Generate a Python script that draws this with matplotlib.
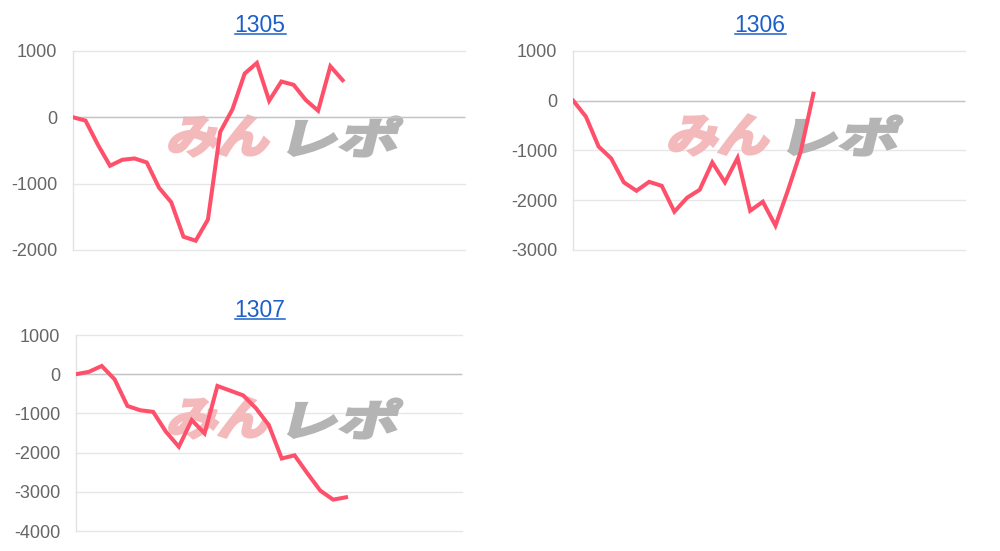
import matplotlib
matplotlib.use('Agg')
import matplotlib.pyplot as plt
from matplotlib.textpath import TextPath
from matplotlib.patches import PathPatch
from matplotlib.font_manager import FontProperties
from matplotlib.transforms import Affine2D, IdentityTransform
from matplotlib.lines import Line2D
import numpy as np

plt.rcParams['font.family'] = ['Liberation Sans', 'DejaVu Sans']
plt.rcParams['axes.unicode_minus'] = False

# dados
titles = ['1305', '1306', '1307']
v1305 = [0, -50, -410, -730, -640, -620, -680, -1060, -1280, -1800, -1860, -1540,
         -220, 120, 660, 820, 250, 540, 490, 260, 100, 770, 560]
v1306 = [0, -320, -920, -1160, -1640, -1810, -1630, -1710, -2230, -1950, -1790,
         -1240, -1640, -1150, -2210, -2030, -2510, -1790, -1020, 140]
v1307 = [0, 60, 210, -130, -810, -920, -960, -1470, -1850, -1170, -1510, -300,
         -420, -540, -870, -1300, -2150, -2070, -2530, -2970, -3200, -3140]
series = [v1305, v1306, v1307]
y_ranges = [(-2000, 1000), (-3000, 1000), (-4000, 1000)]
n_slots = [32, 31, 30]

W, H = 1000, 551
# caixas dos eixos em pixels (esq, topo, dir, base)
boxes = [(73.3, 51, 465, 250), (573.3, 51, 965, 250), (76, 335, 461.7, 531)]
title_pos = [(260, 31.7), (760, 31.7), (260, 316.7)]
mark_pos = [(163, 116), (663, 115), (163, 398)]

LINE = '#fe506a'
fp = FontProperties(family='Noto Sans CJK JP', weight='bold')


def fit_text(ax, txt, x0, top, w, h, color, skew=14, thick=2.2):
    tp = TextPath((0, 0), txt, size=10, prop=fp)
    bb = tp.get_extents()
    sh = np.tan(np.radians(skew)) * h
    tr = (Affine2D().translate(-bb.x0, -bb.y0)
          .scale((w - sh) / bb.width, h / bb.height)
          .skew_deg(skew, 0)
          .translate(x0, H - top - h))
    patch = PathPatch(tr.transform_path(tp), facecolor=color, edgecolor=color,
                      lw=thick, joinstyle='miter',
                      transform=IdentityTransform(), zorder=1.2, clip_on=False)
    ax.add_artist(patch)


fig = plt.figure(figsize=(W / 100, H / 100), dpi=100)

title_texts = []
for i in range(3):
    l, t, r, b = boxes[i]
    ax = fig.add_axes([l / W, 1 - b / H, (r - l) / W, (b - t) / H])
    ymin, ymax = y_ranges[i]
    vals = series[i]
    ax.plot(range(len(vals)), vals, color=LINE, lw=2.9, solid_joinstyle='miter',
            zorder=3)
    ax.set_xlim(0, n_slots[i])
    ax.set_ylim(ymin, ymax)
    ax.set_yticks(range(ymin, ymax + 1, 1000))
    ax.set_xticks([])
    ax.yaxis.grid(True, color='#e6e6e6', lw=1.0)
    for gl in ax.get_ygridlines():
        gl.set_clip_on(False)
    ax.set_axisbelow(True)
    ax.axhline(0, color='#c4c4c4', lw=1.0, zorder=1.5)
    for s in ['top', 'right', 'bottom']:
        ax.spines[s].set_visible(False)
    ax.spines['left'].set_color('#e2e2e2')
    ax.spines['left'].set_linewidth(1.0)
    ax.tick_params(axis='y', length=0, pad=11.5, labelsize=13, labelcolor='#666666')

    # marca d'água
    mx, my = mark_pos[i]
    fit_text(ax, 'みん', mx + 4, my, 108, 40, '#f3b9bb')
    fit_text(ax, 'レポ', mx + 125, my + 1, 115, 39, '#b4b4b4')

    tx, ty = title_pos[i]
    txt = fig.text(tx / W, 1 - ty / H, titles[i], ha='center', va='baseline',
                   fontsize=16.5, color='#1c5fc8')
    title_texts.append((txt, ty))

# sublinhado dos títulos
fig.canvas.draw()
for txt, ty in title_texts:
    bb = txt.get_window_extent()
    yline = 1 - (ty + 1.8) / H
    fig.add_artist(Line2D([bb.x0 / W, bb.x1 / W], [yline, yline],
                          transform=fig.transFigure, color='#1c5fc8', lw=1.1))

fig.savefig('out.png', dpi=100)
